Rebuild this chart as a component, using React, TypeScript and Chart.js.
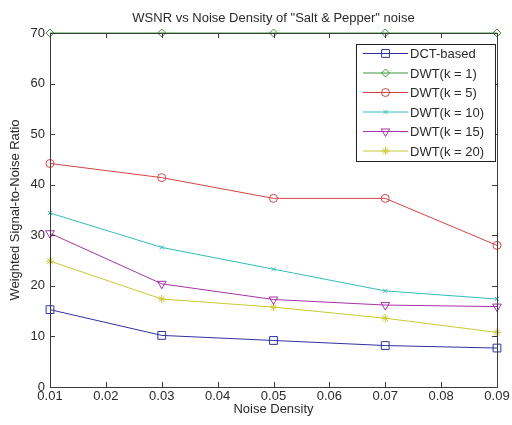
import React, { useEffect, useRef } from "react";
import { Chart, registerables } from "chart.js";
import { drawPoint } from "chart.js/helpers";

Chart.register(...registerables);

const noiseDensity = [0.01, 0.03, 0.05, 0.07, 0.09];
const dctBased = [15.3, 10.2, 9.2, 8.2, 7.7];
const dwtK1 = [70, 70, 70, 70, 70];
const dwtK5 = [44.2, 41.4, 37.3, 37.3, 28.0];
const dwtK10 = [34.4, 27.6, 23.3, 19.0, 17.4];
const dwtK15 = [30.4, 20.4, 17.3, 16.2, 15.9];
const dwtK20 = [24.9, 17.4, 15.8, 13.6, 10.8];
const seriesNames = ["DCT-based", "DWT(k = 1)", "DWT(k = 5)", "DWT(k = 10)", "DWT(k = 15)", "DWT(k = 20)"];
const yTicks = [0, 10, 20, 30, 40, 50, 60, 70];
const xTicks = [0.01, 0.02, 0.03, 0.04, 0.05, 0.06, 0.07, 0.08, 0.09];

const FONT = "'Liberation Sans', Arial, sans-serif";
const TXT = "#2a2a2a";

const styles = [
  { color: "#30309f", pointStyle: "rect", radius: 5.5, rotation: 0 },
  { color: "#3d963d", pointStyle: "rectRot", radius: 4, rotation: 0 },
  { color: "#d14545", pointStyle: "circle", radius: 4, rotation: 0 },
  { color: "#33bbbb", pointStyle: "crossRot", radius: 3, rotation: 0 },
  { color: "#a533a5", pointStyle: "triangle", radius: 5, rotation: 180 },
  { color: "#c9c933", pointStyle: "star", radius: 4, rotation: 0 },
];

const frame = {
  id: "matlabFrame",
  afterDatasetsDraw(chart: any) {
    const { ctx, chartArea: a, scales } = chart;
    ctx.save();
    ctx.strokeStyle = "#3a3a3a";
    ctx.lineWidth = 1;
    ctx.strokeRect(Math.round(a.left) + 0.5, Math.round(a.top) + 0.5, Math.round(a.right - a.left), Math.round(a.bottom - a.top));
    const L = 5;
    ctx.beginPath();
    for (const v of xTicks) {
      const x = Math.round(scales.x.getPixelForValue(v)) + 0.5;
      ctx.moveTo(x, a.bottom); ctx.lineTo(x, a.bottom - L);
      ctx.moveTo(x, a.top); ctx.lineTo(x, a.top + L);
    }
    for (const v of yTicks) {
      const y = Math.round(scales.y.getPixelForValue(v)) + 0.5;
      ctx.moveTo(a.left, y); ctx.lineTo(a.left + L, y);
      ctx.moveTo(a.right, y); ctx.lineTo(a.right - L, y);
    }
    ctx.stroke();
    ctx.restore();
  },
  afterDraw(chart: any) {
    const { ctx, chartArea: a } = chart;
    ctx.save();
    // title
    ctx.fillStyle = TXT;
    ctx.font = `13px ${FONT}`;
    ctx.textAlign = "center";
    ctx.textBaseline = "middle";
    ctx.fillText('WSNR vs Noise Density of "Salt & Pepper" noise', (a.left + a.right) / 2, 18);
    // legend
    const bx = 356.5, by = 44.5, bw = 139, bh = 117;
    ctx.fillStyle = "#fff";
    ctx.fillRect(bx, by, bw, bh);
    ctx.strokeStyle = "#222";
    ctx.lineWidth = 1;
    ctx.strokeRect(bx, by, bw, bh);
    ctx.font = `13px ${FONT}`;
    ctx.textAlign = "left";
    seriesNames.forEach((name, i) => {
      const y = 53.5 + i * 19.5;
      const s = styles[i];
      ctx.strokeStyle = s.color;
      ctx.beginPath();
      ctx.moveTo(363, y);
      ctx.lineTo(408, y);
      ctx.stroke();
      ctx.fillStyle = "rgba(0,0,0,0)";
      drawPoint(ctx, { pointStyle: s.pointStyle, rotation: s.rotation, radius: s.radius, borderWidth: 1 } as any, 385.5, y);
      ctx.fillStyle = TXT;
      ctx.fillText(name, 410, y + 1);
    });
    ctx.restore();
  },
};

export default function App() {
  const ref = useRef<HTMLCanvasElement>(null);
  useEffect(() => {
    const allData = [dctBased, dwtK1, dwtK5, dwtK10, dwtK15, dwtK20];
    const chart = new Chart(ref.current as HTMLCanvasElement, {
      type: "line",
      data: {
        datasets: allData.map((vals, i) => ({
          label: seriesNames[i],
          data: noiseDensity.map((x, j) => ({ x, y: vals[j] })),
          borderColor: styles[i].color,
          backgroundColor: "rgba(0,0,0,0)",
          pointBorderColor: styles[i].color,
          pointBackgroundColor: "rgba(0,0,0,0)",
          pointStyle: styles[i].pointStyle as any,
          pointRotation: styles[i].rotation,
          pointRadius: styles[i].radius,
          pointBorderWidth: 1,
          borderWidth: 1,
          tension: 0,
          clip: false as any,
        })),
      },
      options: {
        animation: false,
        responsive: false,
        layout: { padding: { top: 33, right: 15, left: 0, bottom: 0 } },
        plugins: { legend: { display: false }, tooltip: { enabled: false }, title: { display: false } },
        scales: {
          x: {
            type: "linear",
            min: 0.01,
            max: 0.09,
            afterFit: (s: any) => { s.height = 38; },
            afterBuildTicks: (s: any) => { s.ticks = xTicks.map((v) => ({ value: v })); },
            grid: { display: false, drawTicks: false },
            border: { display: false },
            ticks: {
              padding: 2,
              color: TXT,
              font: { family: FONT, size: 13 },
              maxRotation: 0,
              autoSkip: false,
              callback: (v: any) => Number(v).toFixed(2),
            },
            title: { display: true, text: "Noise Density", color: TXT, font: { family: FONT, size: 13 }, padding: { top: 0, bottom: 8 } },
          },
          y: {
            type: "linear",
            min: 0,
            max: 70,
            afterFit: (s: any) => { s.width = 50; },
            afterBuildTicks: (s: any) => { s.ticks = yTicks.map((v) => ({ value: v })); },
            grid: { display: false, drawTicks: false },
            border: { display: false },
            ticks: { padding: 5, color: TXT, font: { family: FONT, size: 13 }, callback: (v: any) => String(v) },
            title: { display: true, text: "Weighted Signal-to-Noise Ratio", color: TXT, font: { family: FONT, size: 13 }, padding: { top: 8, bottom: 0 } },
          },
        },
      },
      plugins: [frame],
    });
    return () => chart.destroy();
  }, []);
  return (
    <div style={{ position: "fixed", left: 0, top: 0, width: 512, height: 425, background: "#fff" }}>
      <canvas ref={ref} width={512} height={425} style={{ width: 512, height: 425, display: "block" }} />
    </div>
  );
}
